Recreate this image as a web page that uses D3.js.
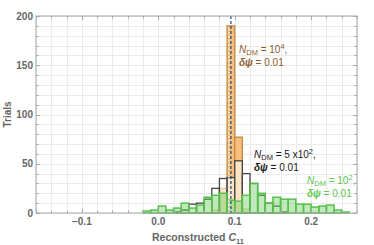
<!DOCTYPE html>
<html>
<head>
<meta charset="utf-8">
<script src="https://cdn.jsdelivr.net/npm/d3@7"></script>
<style>
  body { margin: 0; background: #fff; }
  svg { display: block; font-family: "Liberation Sans", Arial, sans-serif; }
</style>
</head>
<body>
<div id="chart"></div>
<script>
// left edges of the 0.01 wide bins
const bins = [-0.02, -0.01, 0.00, 0.01, 0.02, 0.03, 0.04, 0.05, 0.06, 0.07, 0.08, 0.09, 0.10,
              0.11, 0.12, 0.13, 0.14, 0.15, 0.16, 0.17, 0.18, 0.19, 0.20, 0.21, 0.22, 0.23, 0.24]
const binWidth = 0.01

// N_DM = 10^4
const orangeTrials = [0, 0, 0, 0, 0, 0, 0, 0, 0, 3, 25, 190, 77, 4, 0, 0, 0, 0, 0, 0, 0, 0, 0, 0, 0, 0, 0]
// N_DM = 5x10^2
const blackTrials = [0, 0, 0, 0, 1, 3, 9, 10, 14, 25, 35, 36, 53, 40, 30, 18, 10, 7, 1, 0, 0, 0, 0, 0, 0, 0, 0]
// N_DM = 10^2
const greenTrials = [2, 3, 7, 3, 5, 10, 5, 8, 16, 18, 20, 13, 12, 18, 30, 20, 10, 16, 14, 14, 9, 9, 6, 7, 8, 3, 1]

const trueValue = 0.095
const xTicks = [-0.1, 0.0, 0.1, 0.2]
const yTicks = [0, 50, 100, 150, 200]

const width = 374
const height = 245
const margin = {top: 16, right: 17, bottom: 32, left: 36}

const svg = d3.select("#chart")
    .append("svg")
    .attr("width", width)
    .attr("height", height)

const x = d3.scaleLinear()
    .domain([-0.16, 0.26])
    .range([margin.left, width - margin.right])

const y = d3.scaleLinear()
    .domain([0, 200])
    .range([height - margin.bottom, margin.top])

const grid = svg.append("g")
const bars = svg.append("g")
const frame = svg.append("g")
const labels = svg.append("g")

// grid
const xMinor = d3.range(-0.16, 0.2601, 0.02)
const yMinor = d3.range(0, 201, 10)
grid.attr("stroke", "#ebebeb").attr("stroke-width", 1)
grid.selectAll(".gx").data(xMinor).join("line")
    .attr("x1", d => Math.round(x(d)) + 0.5).attr("x2", d => Math.round(x(d)) + 0.5)
    .attr("y1", y(0)).attr("y2", y(200))
grid.selectAll(".gy").data(yMinor).join("line")
    .attr("y1", d => Math.round(y(d)) + 0.5).attr("y2", d => Math.round(y(d)) + 0.5)
    .attr("x1", x.range()[0]).attr("x2", x.range()[1])

function histogram(g, counts, fill, stroke, sw) {
    const data = bins.map((b, i) => ({b, v: counts[i]})).filter(d => d.v > 0)
    g.selectAll("rect").data(data).join("rect")
        .attr("x", d => x(d.b))
        .attr("width", d => x(d.b + binWidth) - x(d.b))
        .attr("y", d => y(d.v))
        .attr("height", d => y(0) - y(d.v))
        .attr("fill", fill)
        .attr("stroke", stroke)
        .attr("stroke-width", sw)
}

histogram(bars.append("g"), orangeTrials, "#f6c07c", "#c48a45", 1.3)
histogram(bars.append("g"), blackTrials, "rgba(255,255,255,0.55)", "#454545", 1.3)
histogram(bars.append("g"), greenTrials, "rgba(110,200,100,0.42)", "#55c24a", 1.5)

// reference lines
bars.append("line")
    .attr("x1", x(trueValue) - 2).attr("x2", x(trueValue) - 2)
    .attr("y1", y(orangeTrials[11]) + 2).attr("y2", y(0))
    .attr("stroke", "#fff").attr("stroke-width", 1)
    .attr("stroke-dasharray", "2,2")
bars.append("line")
    .attr("x1", x(trueValue)).attr("x2", x(trueValue))
    .attr("y1", y(200)).attr("y2", y(0))
    .attr("stroke", "#1d3f7a").attr("stroke-width", 1.2)
    .attr("stroke-dasharray", "3,2")

// frame and ticks
frame.append("rect")
    .attr("x", x.range()[0]).attr("y", y(200))
    .attr("width", x.range()[1] - x.range()[0])
    .attr("height", y(0) - y(200))
    .attr("fill", "none").attr("stroke", "#a8a8a8").attr("stroke-width", 1)

const tk = frame.append("g").attr("stroke", "#a8a8a8").attr("stroke-width", 1)
xMinor.forEach(d => {
    const major = xTicks.some(t => Math.abs(t - d) < 1e-6)
    const len = major ? 4 : 2.5
    const px = Math.round(x(d)) + 0.5
    tk.append("line").attr("x1", px).attr("x2", px).attr("y1", y(0)).attr("y2", y(0) - len)
    tk.append("line").attr("x1", px).attr("x2", px).attr("y1", y(200)).attr("y2", y(200) + len)
})
yMinor.forEach(d => {
    const major = yTicks.includes(d)
    const len = major ? 4 : 2.5
    const py = Math.round(y(d)) + 0.5
    tk.append("line").attr("y1", py).attr("y2", py).attr("x1", x.range()[0]).attr("x2", x.range()[0] + len)
    tk.append("line").attr("y1", py).attr("y2", py).attr("x1", x.range()[1]).attr("x2", x.range()[1] - len)
})

labels.selectAll(".xl").data(xTicks).join("text")
    .attr("x", d => x(d))
    .attr("y", 225)
    .attr("text-anchor", "middle")
    .attr("font-size", 10).attr("font-weight", "bold").attr("fill", "#666")
    .text(d => d < 0 ? "\u2212" + Math.abs(d).toFixed(1) : d.toFixed(1))

labels.selectAll(".yl").data(yTicks).join("text")
    .attr("x", 33)
    .attr("y", d => y(d) + 3.5)
    .attr("text-anchor", "end")
    .attr("font-size", 10).attr("font-weight", "bold").attr("fill", "#666")
    .text(d => d)

labels.append("text")
    .attr("transform", `translate(11,${(y(0) + y(200)) / 2}) rotate(-90)`)
    .attr("text-anchor", "middle")
    .attr("font-size", 10).attr("font-weight", "bold").attr("fill", "#666")
    .text("Trials")

const xt = labels.append("text")
    .attr("x", 198).attr("y", 241)
    .attr("text-anchor", "middle")
    .attr("font-size", 10.5).attr("font-weight", "bold").attr("fill", "#666")
xt.append("tspan").text("Reconstructed ")
xt.append("tspan").attr("font-style", "italic").text("C")
xt.append("tspan").attr("font-size", 7.5).attr("dy", 2.5).text("11")

// annotations
function note(x0, y0, color, base, exp) {
    const g = labels.append("g").attr("fill", color).attr("font-size", 10)
    const t1 = g.append("text").attr("x", x0).attr("y", y0)
    t1.append("tspan").attr("font-style", "italic").text("N")
    t1.append("tspan").attr("font-size", 7.5).attr("dy", 2).text("DM")
    t1.append("tspan").attr("dy", -2).text(" = " + base)
    t1.append("tspan").attr("font-size", 7.5).attr("dy", -4).text(exp)
    t1.append("tspan").attr("dy", 4).text(",")
    const t2 = g.append("text").attr("x", x0).attr("y", y0 + 13)
    t2.append("tspan").attr("font-style", "italic").attr("font-weight", "bold").text("\u03b4\u03c8")
    t2.append("tspan").text(" = 0.01")
}
note(239, 53, "#8c5e2e", "10", "4")
note(254, 158, "#1a1a1a", "5 x10", "2")
note(307, 184, "#5cc64f", "10", "2")
</script>
</body>
</html>
